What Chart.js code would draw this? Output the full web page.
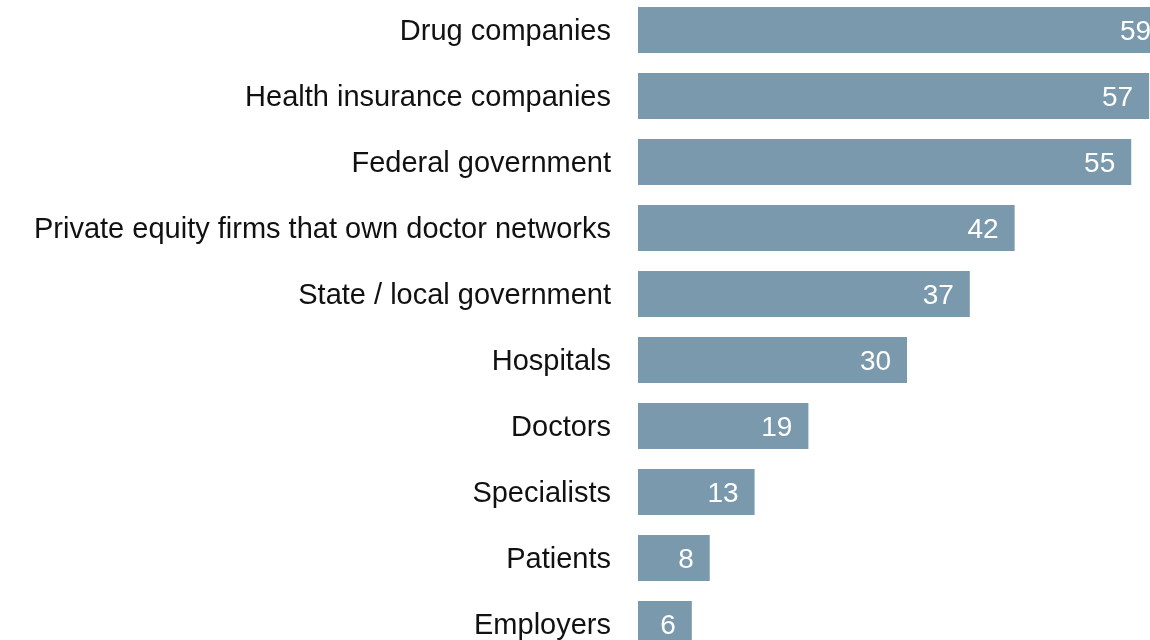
<!DOCTYPE html>
<html>
<head>
<meta charset="utf-8">
<script src="https://cdn.jsdelivr.net/npm/chart.js@4"></script>
<style>
  html, body { margin: 0; padding: 0; background: #fff; overflow: hidden; width: 1150px; height: 640px; }
  #wrap { position: absolute; left: 0; top: -3px; width: 1194px; height: 660px; }
</style>
</head>
<body>
<div id="wrap"><canvas id="chart" width="1194" height="660"></canvas></div>
<script>
// Categories and values, top to bottom
const categories = [
    'Drug companies',
    'Health insurance companies',
    'Federal government',
    'Private equity firms that own doctor networks',
    'State / local government',
    'Hospitals',
    'Doctors',
    'Specialists',
    'Patients',
    'Employers'
];
const values = [59, 57, 55, 42, 37, 30, 19, 13, 8, 6];

const barColor = '#7a99ad';
const fontFamily = "'Liberation Sans', Arial, Helvetica, sans-serif";

// Draw the value labels inside the right end of each bar
const valueLabels = {
    id: 'valueLabels',
    afterDatasetsDraw(chart) {
        const ctx = chart.ctx;
        const meta = chart.getDatasetMeta(0);
        ctx.save();
        ctx.fillStyle = '#ffffff';
        ctx.font = '28px ' + fontFamily;
        ctx.textAlign = 'right';
        ctx.textBaseline = 'middle';
        meta.data.forEach((bar, i) => {
            ctx.fillText(String(values[i]), bar.x - 16, bar.y + 2);
        });
        ctx.restore();
    }
};

new Chart(document.getElementById('chart'), {
    type: 'bar',
    data: {
        labels: categories,
        datasets: [{
            data: values,
            backgroundColor: barColor,
            borderWidth: 0,
            barPercentage: 0.697,
            categoryPercentage: 1
        }]
    },
    options: {
        indexAxis: 'y',
        responsive: false,
        animation: false,
        layout: { padding: 0 },
        scales: {
            x: {
                display: false,
                min: 0,
                max: 62
            },
            y: {
                grid: { display: false, drawTicks: false },
                border: { display: false },
                ticks: {
                    color: '#111111',
                    padding: 27,
                    labelOffset: 2,
                    font: { size: 29, family: fontFamily }
                },
                afterFit(scale) {
                    // fixed axis width; no extra vertical padding from the labels
                    scale.width = 638;
                    scale.paddingTop = 0;
                    scale.paddingBottom = 0;
                }
            }
        },
        plugins: {
            legend: { display: false },
            tooltip: { enabled: false }
        }
    },
    plugins: [valueLabels]
});
</script>
</body>
</html>
